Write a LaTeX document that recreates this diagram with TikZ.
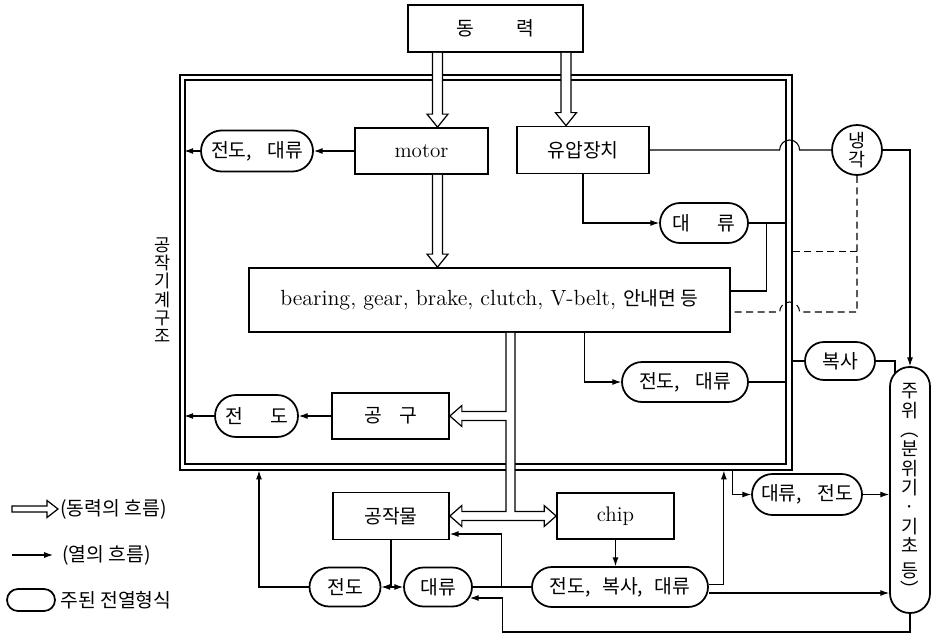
\documentclass[tikz,border=0pt]{standalone}
\usepackage{fontspec}
\newfontfamily\kr{Noto Sans CJK KR}
\usetikzlibrary{arrows.meta,calc,fit,shapes.misc}
\newcommand{\powerdown}[2]{%
  \draw[power] ($#1+(-5,0)$) -- ($#2+(-5,-13)$) -- ($#2+(-10.5,-13)$) -- #2
    -- ($#2+(10.5,-13)$) -- ($#2+(5,-13)$) -- ($#1+(5,0)$);}
\begin{document}
\begin{tikzpicture}[x=0.02cm,y=-0.02cm,
  font=\fontsize{11}{12}\selectfont,
  box/.style={draw,line width=1pt,inner sep=0pt},
  pill/.style={draw,rounded rectangle,line width=1pt,inner sep=0pt},
  frame/.style={draw,line width=0.7pt,inner sep=0pt},
  heat/.style={-{Latex[length=5pt,width=3.4pt]},line width=0.6pt},
  link/.style={line width=0.6pt},
  power/.style={draw,fill=white,line width=0.7pt}]
\useasboundingbox (0,0) rectangle (932,635);

\node[frame,fit={(180,75) (792,470)}] (outer) {};
\node[frame,fit={(185,80) (786,464)}] (inner) {};
\node[align=center,font=\kr\fontsize{10}{10.4}\selectfont] (struct) at (163,290) {공\\작\\기\\계\\구\\조};

\node[box,minimum width=3.5cm,minimum height=0.94cm] (power) at (495.5,28.5) {\kr 동\hspace{2.2em}력};
\node[box,minimum width=2.66cm,minimum height=0.92cm,font=\fontsize{12}{13}\selectfont] (motor) at (421.5,151) {motor};
\node[box,minimum width=2.64cm,minimum height=0.94cm] (hyd) at (583,150) {\kr 유압장치};
\node[box,minimum width=9.62cm,minimum height=1.28cm,font=\fontsize{12.5}{13}\selectfont] (bearing) at (489.5,300) {bearing, gear, brake, clutch, V-belt, {\kr\fontsize{11}{12}\selectfont 안내면 등}};
\node[box,minimum width=2.34cm,minimum height=0.92cm] (tool) at (390.5,416) {\kr 공\hspace{0.9em}구};
\node[box,minimum width=2.32cm,minimum height=0.94cm] (work) at (391,516) {\kr 공작물};
\node[box,minimum width=2.34cm,minimum height=0.92cm,font=\fontsize{12}{13}\selectfont] (chip) at (615.5,516) {chip};

\node[pill,minimum width=2.24cm,minimum height=0.82cm] (cd1) at (257,151) {\kr 전도,\hspace{0.8em}대류};
\node[pill,minimum width=1.76cm,minimum height=0.8cm] (conv1) at (704,223) {\kr 대\hspace{1.4em}류};
\node[pill,minimum width=2.52cm,minimum height=0.8cm] (cd2) at (685,382) {\kr 전도,\hspace{0.8em}대류};
\node[pill,minimum width=1.4cm,minimum height=0.76cm] (rad) at (840,361) {\kr 복사};
\node[pill,minimum width=1.66cm,minimum height=0.84cm] (cond1) at (256.5,416) {\kr 전\hspace{1.4em}도};
\node[pill,minimum width=2.2cm,minimum height=0.82cm] (cc) at (807,494.5) {\kr 대류,\hspace{0.8em}전도};
\node[pill,minimum width=3.52cm,minimum height=0.8cm] (crc) at (620,587) {\kr 전도,\hspace{0.6em}복사,\hspace{0.6em}대류};
\node[pill,minimum width=1.36cm,minimum height=0.78cm] (conv2) at (438,587) {\kr 대류};
\node[pill,minimum width=1.42cm,minimum height=0.78cm] (cond2) at (345,587) {\kr 전도};
\node[draw,circle,line width=1pt,minimum size=1cm,inner sep=0pt,align=center,font=\kr\fontsize{10.5}{11}\selectfont] (cool) at (857,150) {냉\\각};
\node[draw,rounded corners=0.39cm,line width=1pt,minimum width=0.8cm,minimum height=4.92cm,inner sep=0pt,align=center,font=\kr\fontsize{10.5}{11}\selectfont] (amb) at (910,490) {주\\위\\︵\\분\\위\\기\\·\\기\\초\\[3pt]등\\︶};

\coordinate (ax) at (437.5,0);
\coordinate (bx) at (566,0);
\powerdown{(power.south -| ax)}{(motor.north -| ax)}
\powerdown{(power.south -| bx)}{(hyd.north -| bx)}
\powerdown{(motor.south -| ax)}{(bearing.north -| ax)}

\coordinate (sl) at ($(bearing.south)+(16.5,0)$);
\coordinate (sr) at ($(bearing.south)+(25.5,0)$);
\draw[power] (sl) |- ($(tool.east)+(12,-4.5)$) -- ++(0,-6) -- (tool.east) -- ++(12,10.5) -- ++(0,-6)
  -| ($(sl |- work.east)+(0,-4.5)$) -- ($(work.east)+(12,-4.5)$) -- ++(0,-6) -- (work.east) -- ++(12,10.5) -- ++(0,-6)
  -- ($(chip.west)+(-12,4.5)$) -- ++(0,6) -- (chip.west) -- ++(-12,-10.5) -- ++(0,6) -| (sr);

\draw[heat] (motor.west) -- (cd1.east);
\draw[heat] (cd1.west) -- (cd1.west -| inner.west);
\draw[link] (hyd.east) -- ($(outer.east |- hyd.east)+(-13,0)$) arc[start angle=180,end angle=360,radius=10] -- (cool.west);
\draw[heat] (cool.east) -| (amb.north);
\draw[heat] (hyd.south) |- (conv1.west);
\draw[link] (conv1.east) -- (conv1.east -| inner.east);
\draw[link] ($(bearing.east)+(0,-9)$) -| ($(conv1.east)+(18,0)$);
\coordinate (cj) at ($(cool.south)+(0,76)$);
\draw[link,dash pattern=on 4pt off 2.5pt] (cool.south) |- ($(outer.east |- bearing.east)+(7,12)$) arc[start angle=0,end angle=-180,radius=10] -- ($(bearing.east)+(0,12)$);
\draw[link,dash pattern=on 4pt off 2.5pt] (cj) -- (cj -| outer.east);
\draw[heat] ($(bearing.south)+(95,0)$) |- (cd2.west);
\draw[link] (cd2.east) -- (cd2.east -| inner.east);
\draw[link] (rad.west -| outer.east) -- (rad.west);
\draw[link] (rad.east) -| ($(amb.north)+(-15,7)$);
\draw[heat] (tool.west) -- (cond1.east);
\draw[heat] (cond1.west) -- (cond1.west -| inner.west);
\draw[link] (work.south) -- (work.south |- cond2.east);
\draw[heat] (work.south |- cond2.east) -- (cond2.east);
\draw[heat] (work.south |- conv2.west) -- (conv2.west);
\draw[heat] (cond2.west) -| ($(outer.south)+(-227,0)$);
\draw[link] (crc.west) -- (conv2.east);
\draw[heat] ($(conv2.east)+(29,0)$) |- ($(work.east)+(0,18)$);
\draw[heat] (amb.south) |- ($(conv2.east)+(30,45)$) |- ($(conv2.east)+(-3,11)$);
\draw[heat] (chip.south) -- (chip.south |- crc.north);
\draw[heat] ([yshift=0.05cm]crc.east) -| ($(outer.south -| crc.east)+(15,0)$);
\draw[heat] ([yshift=-0.12cm]crc.east) -- ([yshift=-0.12cm]crc.east -| amb.west);
\coordinate (ccx) at ($(cc.west)+(-19,0)$);
\draw[heat] (ccx |- outer.south) |- (cc.west);
\draw[heat] (cc.east) -- (cc.east -| amb.west);

\coordinate (lg1) at (12,509);
\coordinate (lg1e) at (58,509);
\draw[power] ($(lg1)+(0,-3)$) -- ($(lg1e)+(-11,-3)$) -- ($(lg1e)+(-11,-8.5)$) -- (lg1e) -- ($(lg1e)+(-11,8.5)$) -- ($(lg1e)+(-11,3)$) -- ($(lg1)+(0,3)$) -- cycle;
\node[anchor=west,inner sep=0pt] (lgt1) at (60,509) {\kr (동력의 흐름)};
\coordinate (lg2) at (12,555);
\coordinate (lg2e) at (53,555);
\draw[heat] (lg2) -- (lg2e);
\node[anchor=west,inner sep=0pt] (lgt2) at (62,555) {\kr (열의 흐름)};
\node[pill,minimum width=0.96cm,minimum height=0.44cm] (lg3) at (31,600) {};
\node[anchor=west,inner sep=0pt] (lgt3) at (60,600) {\kr 주된 전열형식};
\end{tikzpicture}
\end{document}
